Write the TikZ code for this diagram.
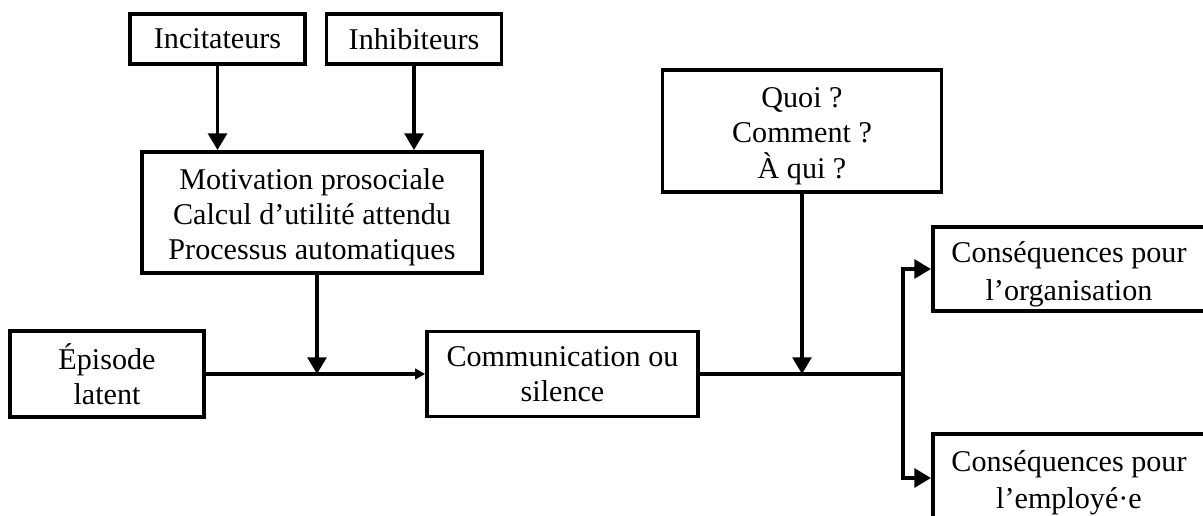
\documentclass[tikz,border=0pt]{standalone}
\usepackage{fontspec}
\setmainfont{Liberation Serif}
\usetikzlibrary{arrows.meta}
\newcommand{\topgap}[1]{\rule{0pt}{#1}}
\tikzset{
  box/.style={draw=black, line width=2.9pt, rectangle, align=center, inner sep=0pt,
    font=\fontsize{22.6}{26.5}\selectfont},
  conn/.style={line width=2.7pt},
  arr/.style={conn, -{Triangle[width=14pt,length=12.5pt]}},
  smallarr/.style={conn, -{Triangle[width=8pt,length=7.5pt]}}
}
\begin{document}
\begin{tikzpicture}[x=0.75pt,y=-0.75pt]
\useasboundingbox (0,0) rectangle (1203,516);
\clip (0,0) rectangle (1203,516);
\node[box, minimum width=131.25pt, minimum height=37.5pt] (inc) at (217.5,39) {Incitateurs};
\node[box, minimum width=131.25pt, minimum height=37.5pt] (inh) at (414,39) {Inhibiteurs};
\node[box, minimum width=255pt, minimum height=90.75pt] (mot) at (312,212.5)
  {\topgap{23pt}Motivation prosociale\\Calcul d’utilité attendu\\Processus automatiques};
\node[box, minimum width=145.5pt, minimum height=64.5pt] (epi) at (107,374) {Épisode\\latent};
\node[box, minimum width=203.25pt, minimum height=63.75pt] (com) at (562.5,374) {Communication ou\\silence};
\node[box, minimum width=209.25pt, minimum height=91.5pt] (quoi) at (802,131) {\topgap{22.4pt}Quoi ?\\Comment ?\\À qui ?};
\node[box, minimum width=204pt, minimum height=63pt] (org) at (1069,269) {\topgap{24pt}Conséquences pour\\[2pt]l’organisation};
\node[box, minimum width=204pt, minimum height=66pt] (emp) at (1069,478) {\topgap{22.4pt}Conséquences pour\\[1pt]l’employé·e};
\coordinate (j1) at (317,374);
\coordinate (j2) at (903,374);
\draw[arr] (inc.south) -- (inc.south |- mot.north);
\draw[arr] (inh.south) -- (inh.south |- mot.north);
\draw[arr] (mot.south -| j1) -- (j1);
\draw[smallarr] (epi.east) -- (com.west);
\draw[conn] (com.east) -- (j2);
\draw[arr] (quoi.south) -- (quoi.south |- com.east);
\draw[arr] (j2) |- (org.west);
\draw[arr] (j2) |- (emp.west);
\end{tikzpicture}
\end{document}
